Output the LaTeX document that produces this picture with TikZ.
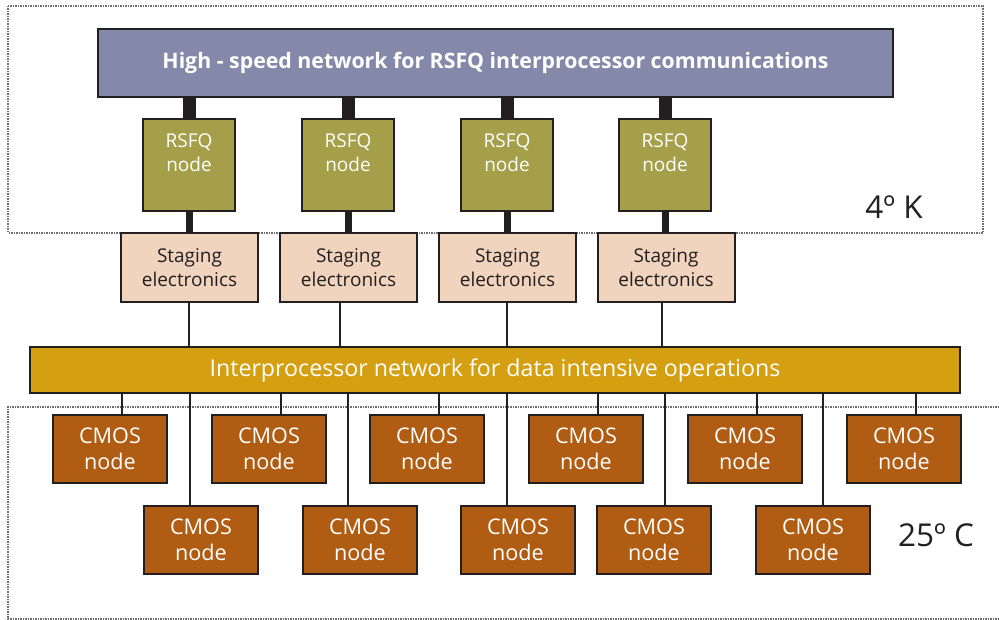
\documentclass[tikz,border=0pt]{standalone}
\usepackage{fontspec}
\setmainfont{Open Sans}
\definecolor{edge}{HTML}{231F20}
\definecolor{topc}{HTML}{8489AA}
\definecolor{rsfqc}{HTML}{A59F4A}
\definecolor{stagec}{HTML}{F0D4BD}
\definecolor{interc}{HTML}{D59F12}
\definecolor{cmosc}{HTML}{B05C12}
\definecolor{dotc}{HTML}{6E6E6E}
\tikzset{
  box/.style={draw=edge, line width=2pt, inner sep=0pt, align=center},
  topbar/.style={box, fill=topc, text=white, minimum width=795pt, minimum height=68pt, font=\fontsize{21.3}{24}\selectfont\bfseries},
  rsfq/.style={box, fill=rsfqc, minimum width=92pt, minimum height=92pt},
  rtext/.style={text=white, align=center, font=\fontsize{19}{24}\selectfont},
  stage/.style={box, fill=stagec, text=edge, minimum width=137pt, minimum height=69pt, font=\fontsize{19}{24}\selectfont},
  interbar/.style={box, fill=interc, text=white, minimum width=930pt, minimum height=46pt, font=\fontsize{23.2}{26}\selectfont},
  cmos/.style={box, fill=cmosc, text=white, minimum width=114pt, minimum height=68pt, font=\fontsize{21.6}{26}\selectfont},
  thick link/.style={draw=edge, line width=13pt},
  mid link/.style={draw=edge, line width=7pt},
  thin link/.style={draw=edge, line width=1.6pt},
  zone/.style={draw=dotc, densely dotted, line width=1.5pt},
  temp/.style={text=edge, font=\fontsize{31.5}{34}\selectfont}
}
\begin{document}
\begin{tikzpicture}[x=1pt,y=-1pt]
\useasboundingbox (0,0) rectangle (999,620);
% zones
\draw[zone] (8,6) rectangle (983,233);
\draw[zone] (999,407) -- (8,407) -- (8,619) -- (999,619);

% top bar
\node[topbar] (top) at (495.5,63) {High - speed network for RSFQ interprocessor communications};

% RSFQ nodes
\foreach \i/\x in {1/189,2/348,3/507,4/665}{
  \node[rsfq] (r\i) at (\x,165) {};
  \node[rtext] (rt\i) at ([yshift=12pt]r\i.center) {RSFQ\\node};
}
% staging
\foreach \i/\x in {1/189.5,2/348.5,3/507.5,4/666}{
  \node[stage] (s\i) at (\x,267.5) {Staging\\electronics};
}
% interprocessor bar
\node[interbar] (inter) at (495,370) {Interprocessor network for data intensive operations};

% CMOS top row
\foreach \i/\x in {1/110,2/269,3/427,4/586,5/745,6/904}{
  \node[cmos] (c\i) at (\x,449) {CMOS\\node};
}
% CMOS bottom row
\foreach \i/\x in {1/201,2/360,3/518,4/654,5/813}{
  \node[cmos] (d\i) at (\x,540) {CMOS\\node};
}

% temperature labels
\node[temp] (k4) at (894,207) {4º K};
\node[temp] (c25) at (936,535) {25º C};

% links top -> RSFQ -> staging
\foreach \i in {1,2,3,4}{
  \path[thick link] (r\i.north) -- (r\i.north |- top.south);
  \path[mid link] (r\i.south) -- (r\i.south |- s\i.north);
}
% staging -> inter
\foreach \i/\dx in {1/-0.5,2/-8.5,3/-0.5,4/-4}{
  \path[thin link] ([xshift=\dx pt]s\i.south) -- ([xshift=\dx pt]s\i.south |- inter.north);
}
% inter -> CMOS top row
\foreach \i in {1,...,6}{
  \path[thin link] ([xshift=12pt]c\i.north) -- ([xshift=12pt]c\i.north |- inter.south);
}
% inter -> CMOS bottom row
\foreach \i/\dx in {1/-11,2/-12,3/-11,4/11,5/10}{
  \path[thin link] ([xshift=\dx pt]d\i.north) -- ([xshift=\dx pt]d\i.north |- inter.south);
}
\end{tikzpicture}
\end{document}
